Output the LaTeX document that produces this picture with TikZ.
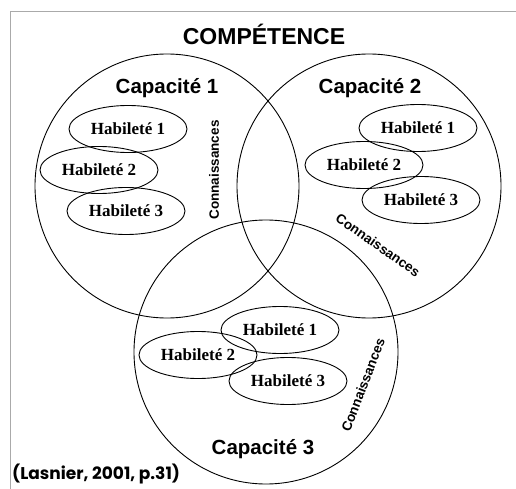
\documentclass[tikz,border=0pt]{standalone}
\usepackage{fontspec}
\setmainfont{Liberation Serif}
\setsansfont{Liberation Sans}
\newfontfamily\geofont{Poppins}
\usetikzlibrary{shapes.geometric}
\definecolor{framegray}{RGB}{170,170,170}

\begin{document}
\begin{tikzpicture}[
  x=1pt, y=-1pt,
  every node/.style={inner sep=0pt},
  capa/.style  = {circle, draw=black, line width=0.9pt, minimum size=264pt},
  habi/.style  = {ellipse, draw=black, line width=0.9pt, minimum width=118pt, minimum height=47pt, font=\fontsize{17}{18}\selectfont\bfseries},
  conn/.style  = {font=\sffamily\bfseries\fontsize{13.5}{14}\selectfont},
  captitle/.style = {font=\sffamily\bfseries\fontsize{20.5}{21}\selectfont},
  maintitle/.style = {font=\sffamily\bfseries\fontsize{23}{24}\selectfont},
  source/.style = {font=\geofont\fontsize{17}{18}\selectfont, anchor=west}
]
\useasboundingbox (0,0) rectangle (516,489);

%% frame
\draw[framegray, line width=0.8pt] (10,489) -- (10,11) -- (516,11);

\node[maintitle] (title) at (264,34) {COMPÉTENCE};

%% the three capacities
\node[capa] (cap1) at (167,186) {};
\node[capa] (cap2) at (369,186) {};
\node[capa] (cap3) at (266,352) {};

\node[captitle] (lab1) at (167,88) {Capacité 1};
\node[captitle] (lab2) at (370,88) {Capacité 2};
\node[captitle] (lab3) at (263,449) {Capacité 3};

%% capacity 1
\node[habi] (h11) at (128,129) {Habileté 1};
\node[habi] (h12) at (99,170)  {Habileté 2};
\node[habi] (h13) at (126,211) {Habileté 3};
\node[conn, rotate=90] (k1) at (214,170) {Connaissances};

%% capacity 2
\node[habi] (h21) at (418,128) {Habileté 1};
\node[habi] (h22) at (364,165) {Habileté 2};
\node[habi] (h23) at (421,200) {Habileté 3};
\node[conn, rotate=-35] (k2) at (378,245) {Connaissances};

%% capacity 3
\node[habi] (h31) at (280,330) {Habileté 1};
\node[habi] (h32) at (198,355) {Habileté 2};
\node[habi] (h33) at (288,381) {Habileté 3};
\node[conn, rotate=69] (k3) at (363,385) {Connaissances};

\node[source] (src) at (12,474) {\bfseries (Lasnier, 2001, p.31)};
\end{tikzpicture}
\end{document}
